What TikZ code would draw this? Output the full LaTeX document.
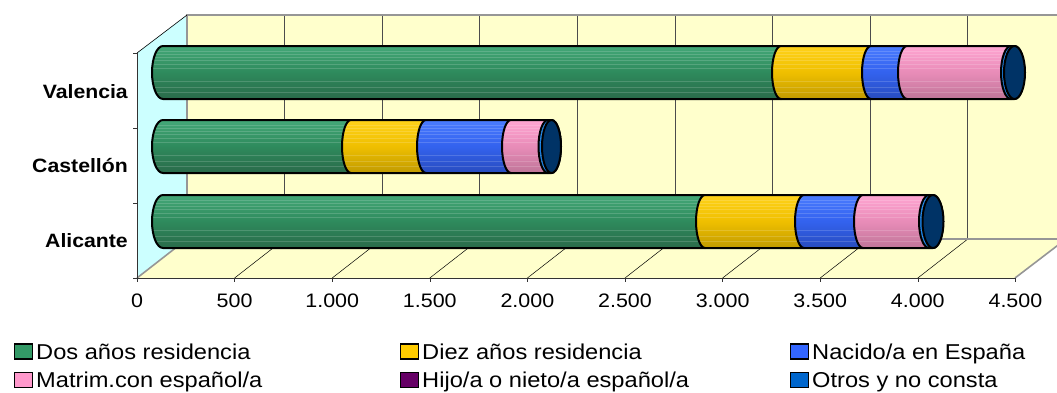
\documentclass[tikz,border=0pt]{standalone}
\usepackage{fontspec}
\setmainfont{Liberation Sans}[FakeStretch=1.1]
\definecolor{wallY}{HTML}{FFFFCC}
\definecolor{wallC}{HTML}{CCFFFF}
\definecolor{edgeG}{HTML}{969696}
\definecolor{grnT}{HTML}{44A878}
\definecolor{grnM}{HTML}{2E8A5C}
\definecolor{grnB}{HTML}{2A6A4A}
\definecolor{yelT}{HTML}{FFD21A}
\definecolor{yelM}{HTML}{EFBF00}
\definecolor{yelB}{HTML}{C09A00}
\definecolor{bluT}{HTML}{4A7CFF}
\definecolor{bluM}{HTML}{3362EE}
\definecolor{bluB}{HTML}{284CBE}
\definecolor{pnkT}{HTML}{FFA6D2}
\definecolor{pnkM}{HTML}{E88CB8}
\definecolor{pnkB}{HTML}{BF7598}
\definecolor{otrC}{HTML}{1A80E0}
\definecolor{capC}{HTML}{003366}
\definecolor{legG}{HTML}{339966}
\definecolor{legY}{HTML}{FFCC00}
\definecolor{legB}{HTML}{3366FF}
\definecolor{legP}{HTML}{FF99CC}
\definecolor{legH}{HTML}{660066}
\definecolor{legO}{HTML}{0066CC}
\newcommand\segpath[5]{(#1,{-#3+26.5}) arc[start angle=90,end angle=270,x radius=#4,y radius=26.5]
    -- (#2,{-#3-26.5}) arc[start angle=-90,end angle=90,x radius=#5,y radius=26.5] -- cycle}
\newcommand\cylseg[6]{%
  \path[#6] \segpath{#1}{#2}{#3}{#4}{#5};
  \begin{scope}
    \clip \segpath{#1}{#2}{#3}{#4}{#5};
    \foreach \o in {21,18,15,12,8,4,-9,-15,-20} {
      \draw[stripe] ({#1-14},{-#3+\o}) -- ({#2+14},{-#3+\o});
    }
  \end{scope}
  \path[segline] \segpath{#1}{#2}{#3}{#4}{#5};}
\newcommand\cylcap[3]{%
  \path[capst] (#1,-#2) ellipse[x radius=#3,y radius=26.5];}
\tikzset{
  segline/.style={draw=black,line width=2pt,line join=round},
  stripe/.style={white,opacity=0.16,line width=0.9pt},
  grn/.style={top color=grnT,bottom color=grnB,middle color=grnM},
  yel/.style={top color=yelT,bottom color=yelB,middle color=yelM},
  blu/.style={top color=bluT,bottom color=bluB,middle color=bluM},
  pnk/.style={top color=pnkT,bottom color=pnkB,middle color=pnkM},
  otr/.style={fill=otrC},
  capst/.style={segline,fill=capC},
  gridb/.style={black!70,line width=0.8pt},
  gridf/.style={black,line width=0.5pt},
  border/.style={edgeG,line width=1.6pt},
  axlab/.style={font=\fontsize{19.5}{22}\selectfont,inner sep=0pt},
  catlab/.style={font=\fontsize{19.3}{22}\selectfont\bfseries,inner sep=0pt,anchor=base east},
  legbox/.style={draw=black,line width=1.2pt,minimum width=18pt,minimum height=15pt,inner sep=0pt,anchor=south west},
  legtxt/.style={font=\fontsize{21.5}{24}\selectfont,inner sep=0pt,anchor=base west},
}
\begin{document}
\begin{tikzpicture}[x=1pt,y=1pt]
\clip (0,0) rectangle (1057,-392);
\fill[white] (0,0) rectangle (1057,-392);
% walls
\fill[wallY] (187,-15) rectangle (1066,-239);
\fill[wallC] (137,-53) -- (187,-15) -- (187,-239) -- (137,-278) -- cycle;
\fill[wallY] (137,-278) -- (1015,-278) -- (1066,-239) -- (187,-239) -- cycle;
% back grid lines
\foreach \k in {1,...,8} {
  \draw[gridb] ({187+97.6*\k},-15) -- ({187+97.6*\k},-239);
}
% floor grid lines
\foreach \k in {1,...,8} {
  \draw[gridf] ({137+97.6*\k},-278) -- ({187+97.6*\k},-239);
}
% borders
\draw[border] (187,-239) -- (187,-15) -- (1066,-15);
\draw[border] (187,-239) -- (1066,-239);
\draw[border] (137,-278) -- (187,-239);
\draw[border] (1015,-278) -- (1066,-239);
\draw[black!80,line width=0.6pt] (137,-278) -- (1015,-278);
\draw[black,line width=0.6pt] (137,-53) -- (187,-15);
% value axis ticks
\foreach \k in {0,...,9} {
  \draw[black!80,line width=0.6pt] ({137+97.6*\k},-278) -- ({137+97.6*\k},-282);
}
% category axis
\draw[black!80,line width=0.8pt] (137,-53) -- (137,-278);
\foreach \yy in {53,128,203,278} {
  \draw[black!80,line width=0.8pt] (133,-\yy) -- (137,-\yy);
}
% Valencia bar
\cylseg{163}{781}{72.5}{11}{9}{grn}
\cylseg{781}{871}{72.5}{9}{9}{yel}
\cylseg{871}{907}{72.5}{9}{9}{blu}
\cylseg{907}{1011}{72.5}{9}{10}{pnk}
\cylseg{1011}{1014.5}{72.5}{10}{10}{otr}
\cylcap{1014.5}{72.5}{10.5}
% Castellon bar
\cylseg{163}{351}{146.5}{11}{9}{grn}
\cylseg{351}{426}{146.5}{9}{9}{yel}
\cylseg{426}{511}{146.5}{9}{9}{blu}
\cylseg{511}{548}{146.5}{9}{9.5}{pnk}
\cylseg{548}{551.5}{146.5}{9.5}{9.5}{otr}
\cylcap{551.5}{146.5}{9.5}
% Alicante bar
\cylseg{163}{705}{221.5}{11}{9}{grn}
\cylseg{705}{804}{221.5}{9}{9}{yel}
\cylseg{804}{863}{221.5}{9}{9}{blu}
\cylseg{863}{929}{221.5}{9}{10}{pnk}
\cylseg{929}{933}{221.5}{10}{10}{otr}
\cylcap{933}{221.5}{10.5}
% category labels
\node[catlab] (cV) at (128,-98) {Valencia};
\node[catlab] (cC) at (128,-172.3) {Castellón};
\node[catlab] (cA) at (128,-247.3) {Alicante};
% value labels
\node[axlab] (x0) at (137,-301) {0};
\node[axlab] (x1) at (234.6,-301) {500};
\node[axlab] (x2) at (332.2,-301) {1.000};
\node[axlab] (x3) at (429.8,-301) {1.500};
\node[axlab] (x4) at (527.4,-301) {2.000};
\node[axlab] (x5) at (625,-301) {2.500};
\node[axlab] (x6) at (722.6,-301) {3.000};
\node[axlab] (x7) at (820.2,-301) {3.500};
\node[axlab] (x8) at (917.8,-301) {4.000};
\node[axlab] (x9) at (1015.4,-301) {4.500};
% legend
\node[legbox,fill=legG] (l1) at (14,-359.5) {};
\node[legtxt] (t1) at (36,-359) {Dos años residencia};
\node[legbox,fill=legY] (l2) at (400,-359.5) {};
\node[legtxt] (t2) at (422,-359) {Diez años residencia};
\node[legbox,fill=legB] (l3) at (790,-359.5) {};
\node[legtxt] (t3) at (812,-359) {Nacido/a en España};
\node[legbox,fill=legP] (l4) at (14,-388) {};
\node[legtxt] (t4) at (36,-387.5) {Matrim.con español/a};
\node[legbox,fill=legH] (l5) at (400,-388) {};
\node[legtxt] (t5) at (422,-387.5) {Hijo/a o nieto/a español/a};
\node[legbox,fill=legO] (l6) at (790,-388) {};
\node[legtxt] (t6) at (812,-387.5) {Otros y no consta};
\end{tikzpicture}
\end{document}
